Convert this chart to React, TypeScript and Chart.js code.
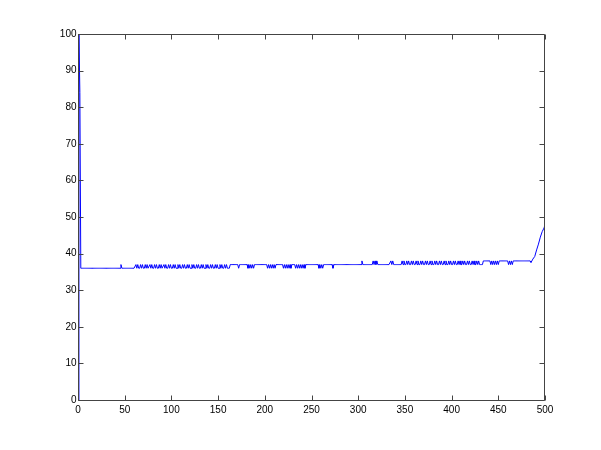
import React, { useEffect, useRef } from "react";
import { Chart, registerables } from "chart.js";

Chart.register(...registerables);

// Axis ticks
const xTicks = [0, 50, 100, 150, 200, 250, 300, 350, 400, 450, 500];
const yTicks = [0, 10, 20, 30, 40, 50, 60, 70, 80, 90, 100];

// Start-up transient: [x, y]
const startPoints: [number, number][] = [
  [0, 0],
  [1, 100],
  [2, 84],
  [3, 36],
];

// Base level runs: [fromX, toX, level]
const baseRuns: [number, number, number][] = [
  [3, 162, 36],
  [163, 433, 37],
  [434, 484, 38],
];

// Samples one step above the base level
const upSamples = [
  46, 62, 64, 67, 69, 72, 74, 77, 79, 82, 84, 87, 89, 92, 94, 97, 99, 102, 104,
  107, 109, 112, 114, 117, 119, 122, 124, 127, 129, 132, 134, 137, 139, 142,
  144, 147, 149, 152, 154, 157, 159, 304, 316, 318, 320, 335, 337, 347, 349,
  352, 354, 357, 359, 362, 364, 367, 369, 372, 374, 377, 379, 382, 384, 387,
  389, 392, 394, 397, 399, 402, 404, 407, 409, 412, 414, 417, 419, 422, 424,
  427, 429,
];

// Samples one step below the base level
const downSamples = [
  172, 182, 184, 186, 188, 203, 205, 207, 209, 211, 220, 222, 224, 226, 228,
  233, 235, 237, 239, 241, 243, 258, 260, 262, 273, 442, 444, 446, 448, 450,
  461, 463, 465,
];

// Final rise: [x, y]
const endPoints: [number, number][] = [
  [485, 37.6],
  [486, 38],
  [487, 38.5],
  [489, 39.2],
  [491, 41],
  [493, 42.6],
  [495, 44.5],
  [497, 46],
  [499, 47],
  [500, 48],
];

function buildSeries() {
  const pts: { x: number; y: number }[] = [];
  startPoints.forEach(([x, y]) => pts.push({ x, y }));
  const up = new Set(upSamples);
  const down = new Set(downSamples);
  baseRuns.forEach(([from, to, level]) => {
    for (let x = from; x <= to; x++) {
      if (x === 3) continue;
      let y = level;
      if (up.has(x)) y = level + 1;
      if (down.has(x)) y = level - 1;
      pts.push({ x, y });
    }
  });
  endPoints.forEach(([x, y]) => pts.push({ x, y }));
  return pts;
}

const frameplugin = {
  id: "matlabFrame",
  afterDraw(chart: any) {
    const { ctx, chartArea } = chart;
    const xs = chart.scales.x;
    const ys = chart.scales.y;
    const l = Math.round(chartArea.left) + 0.5;
    const r = Math.round(chartArea.right) - 0.5;
    const t = Math.round(chartArea.top) + 0.5;
    const b = Math.round(chartArea.bottom) + 0.5;
    ctx.save();
    ctx.strokeStyle = "#444";
    ctx.lineWidth = 1;
    ctx.beginPath();
    ctx.rect(l, t, r - l, b - t);
    ctx.stroke();
    const tl = 5;
    ctx.beginPath();
    xTicks.forEach((v) => {
      const px = Math.round(xs.getPixelForValue(v)) + 0.5;
      ctx.moveTo(px, b);
      ctx.lineTo(px, b - tl);
      ctx.moveTo(px, t);
      ctx.lineTo(px, t + tl);
    });
    yTicks.forEach((v) => {
      const py = Math.round(ys.getPixelForValue(v)) + 0.5;
      ctx.moveTo(l, py);
      ctx.lineTo(l + tl, py);
      ctx.moveTo(r, py);
      ctx.lineTo(r - tl, py);
    });
    ctx.stroke();
    ctx.fillStyle = "#000";
    ctx.font = "10px 'Liberation Sans', Arial, sans-serif";
    ctx.textAlign = "center";
    ctx.textBaseline = "top";
    xTicks.forEach((v) => {
      ctx.fillText(String(v), xs.getPixelForValue(v), b + 5);
    });
    ctx.textAlign = "right";
    ctx.textBaseline = "middle";
    yTicks.forEach((v) => {
      ctx.fillText(String(v), l - 2, ys.getPixelForValue(v));
    });
    ctx.restore();
  },
};

export default function App() {
  const ref = useRef<HTMLCanvasElement>(null);
  useEffect(() => {
    if (!ref.current) return;
    const chart = new Chart(ref.current, {
      type: "line",
      data: {
        datasets: [
          {
            data: buildSeries(),
            borderColor: "#0000ff",
            borderWidth: 1,
            pointRadius: 0,
            fill: false,
            tension: 0,
          },
        ],
      },
      options: {
        responsive: false,
        animation: false,
        events: [],
        layout: { padding: { top: 34, right: 56, left: 0, bottom: 0 } },
        plugins: { legend: { display: false }, tooltip: { enabled: false } },
        scales: {
          x: {
            type: "linear",
            min: 0,
            max: 500,
            grid: { display: false },
            border: { display: false },
            ticks: { display: false },
            afterFit: (s: any) => {
              s.height = 50;
            },
          },
          y: {
            type: "linear",
            min: 0,
            max: 100,
            grid: { display: false },
            border: { display: false },
            ticks: { display: false },
            afterFit: (s: any) => {
              s.width = 78;
            },
          },
        },
      },
      plugins: [frameplugin],
    });
    return () => chart.destroy();
  }, []);
  return (
    <div style={{ position: "absolute", left: 0, top: 0, width: 601, height: 450, background: "#fff" }}>
      <canvas ref={ref} width={601} height={450} />
    </div>
  );
}
